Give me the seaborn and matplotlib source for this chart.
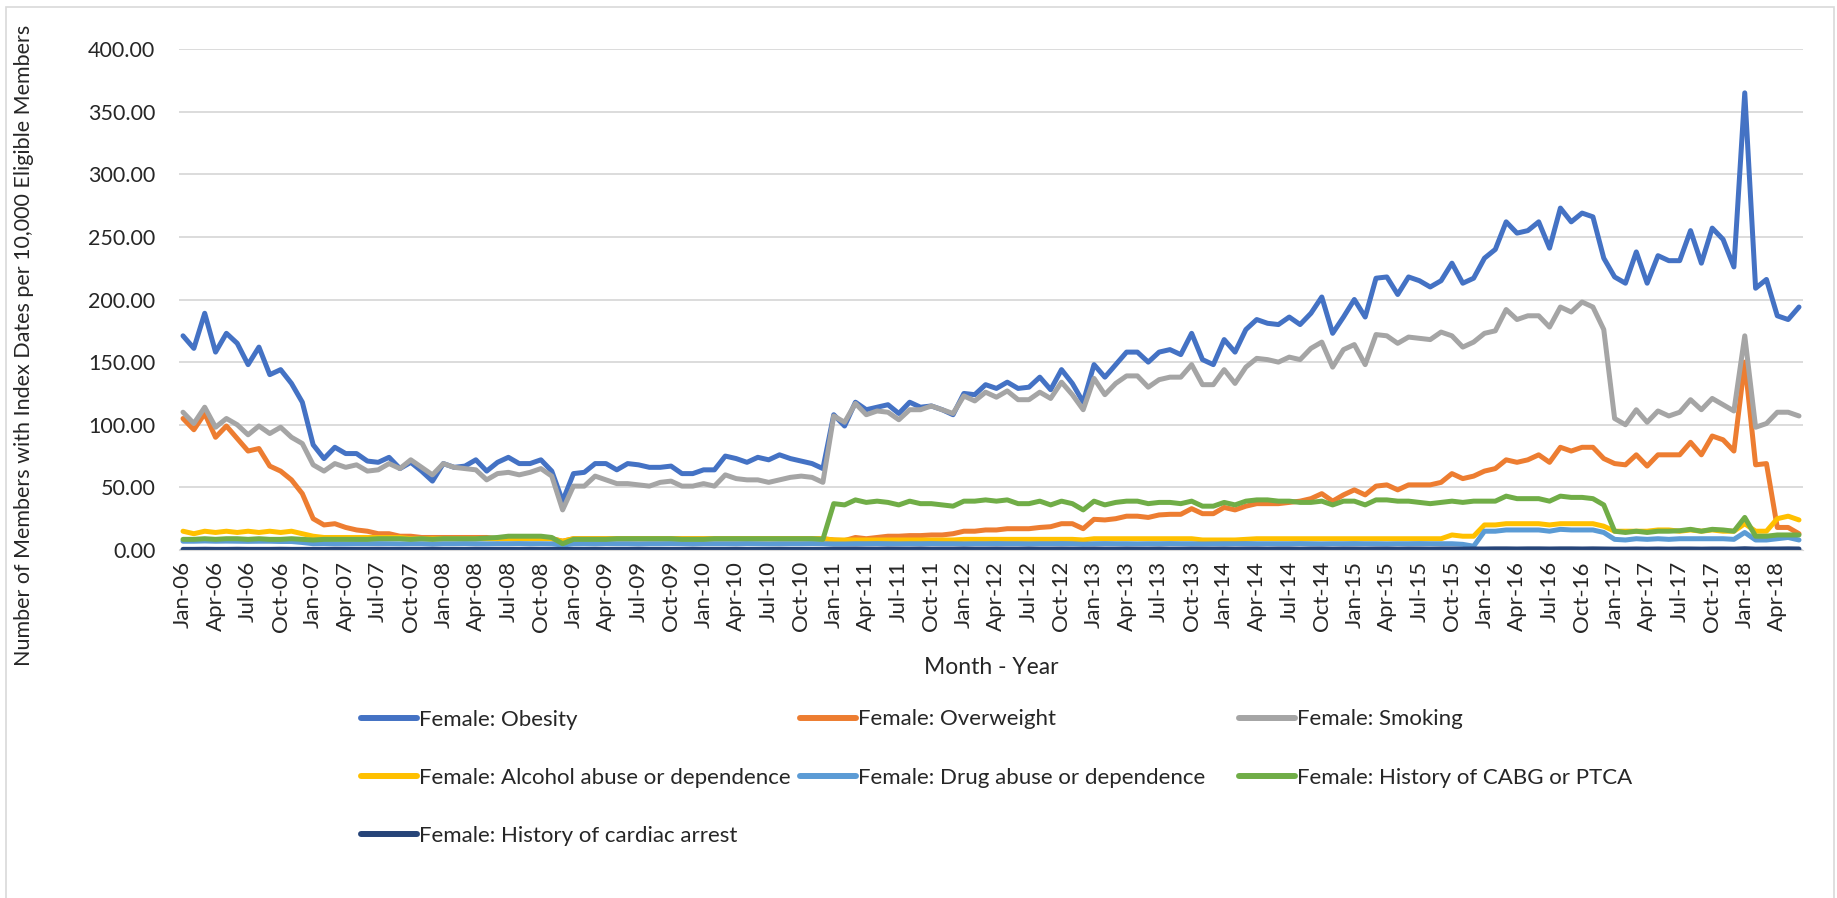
import numpy as np
import pandas as pd
import seaborn as sns
import matplotlib.pyplot as plt
from matplotlib.lines import Line2D
from matplotlib.patches import Rectangle

# monthly values, Jan-06 .. Jun-18 (150 months)
obesity = [171, 161, 189, 158, 173, 165, 148, 162, 140, 144, 133, 118, 84, 73, 82, 77, 77, 71, 70, 74, 65, 70, 63, 55, 69,
           66, 67, 72, 63, 70, 74, 69, 69, 72, 63, 39, 61, 62, 69, 69, 64, 69, 68, 66, 66, 67, 61, 61, 64, 64, 75,
           73, 70, 74, 72, 76, 73, 71, 69, 65, 108, 99, 118, 112, 114, 116, 109, 118, 114, 115, 112, 108, 125, 124, 132, 129, 134,
           129, 130, 138, 128, 144, 133, 118, 148, 138, 148, 158, 158, 150, 158, 160, 156, 173, 152, 148, 168, 158, 176, 184, 181, 180,
           186, 180, 189, 202, 173, 186, 200, 186, 217, 218, 204, 218, 215, 210, 215, 229, 213, 217, 233, 240, 262, 253, 255, 262, 241, 273,
           262, 269, 266, 233, 218, 213, 238, 213, 235, 231, 231, 255, 229, 257, 248, 226, 365, 209, 216, 187, 184, 194]
overweight = [105, 96, 109, 90, 99, 89, 79, 81, 67, 63, 56, 45, 25, 20, 21, 18, 16, 15, 13, 13, 11, 11, 10, 10, 10,
              10, 10, 10, 10, 9, 10, 10, 10, 10, 9, 7, 9, 9, 9, 9, 9, 9, 9, 9, 9, 9, 9, 9, 9, 9, 9,
              9, 9, 9, 9, 9, 9, 9, 9, 9, 8, 7.5, 10, 9, 10, 11, 11, 11.5, 11.5, 12, 12, 13, 15, 15, 16, 16, 17,
              17, 17, 18, 18.6, 21, 21, 17, 24.5, 24, 25, 27, 27, 26, 28, 28.5, 28.5, 33, 29, 29, 34, 32, 35, 37, 37, 37,
              38, 39, 41, 45, 39, 44, 48, 44, 51, 52, 48, 52, 52, 52, 54, 61, 57, 59, 63, 65, 72, 70, 72, 76, 70, 82,
              79, 82, 82, 73, 69, 68, 76, 67, 76, 76, 76, 86, 76, 91, 88, 79, 150, 68, 69, 18, 18, 13]
smoking = [110, 101, 114, 98, 105, 100, 92, 99, 93, 98, 90, 85, 68, 63, 69, 66, 68, 63, 64, 69, 65, 72, 66, 60, 69,
           66, 65, 64, 56, 61, 62, 60, 62, 65, 59, 32, 51, 51, 59, 56, 53, 53, 52, 51, 54, 55, 51, 51, 53, 51, 60,
           57, 56, 56, 54, 56, 58, 59, 58, 54, 107, 102, 117, 108, 111, 110, 104, 112, 112, 115, 112, 109, 123, 119, 126, 122, 127,
           120, 120, 126, 121, 134, 124, 112, 137, 124, 133, 139, 139, 130, 136, 138, 138, 148, 132, 132, 144, 133, 146, 153, 152, 150,
           154, 152, 161, 166, 146, 160, 164, 148, 172, 171, 165, 170, 169, 168, 174, 171, 162, 166, 173, 175, 192, 184, 187, 187, 178, 194,
           190, 198, 194, 176, 105, 100, 112, 102, 111, 107, 110, 120, 112, 121, 116, 111, 171, 98, 101, 110, 110, 107]
alcohol = [15, 13, 15, 14, 15, 14, 15, 14, 15, 14, 15, 13, 11, 10, 10, 10, 10, 10, 10, 10, 10, 9, 9, 9, 9,
           9, 9, 9, 9, 9, 9, 9, 9, 9, 9, 7, 9, 9, 9, 9, 9, 9, 9, 9, 9, 9, 9, 9, 9, 9, 9,
           9, 9, 9, 9, 9, 9, 9, 9, 9, 8, 8, 8, 8, 8, 8, 8, 8, 8, 8, 8, 8, 8.5, 8.5, 8.5, 8.5, 8.5,
           8.5, 8.5, 8.5, 8.5, 8.5, 8.5, 8, 9, 9, 9, 9, 9, 9, 9, 9, 9, 9, 8, 8, 8, 8, 8.5, 9, 9, 9,
           9, 9, 9, 9, 9, 9, 9, 9, 9, 9, 9, 9, 9, 9, 9, 12, 11, 11, 20, 20, 21, 21, 21, 21, 20, 21,
           21, 21, 21, 19, 15, 15, 15, 15, 16, 16, 15, 16, 15, 16, 15, 15, 21, 15, 15, 25, 27, 24]
drug = [7, 7, 7.2, 7, 7.1, 7, 6.9, 7, 7, 6.8, 6.8, 6, 5, 5.1, 5, 4.9, 5, 5, 5.1, 5, 4.9, 5, 5, 4.8, 5,
        5, 5.1, 5, 4.9, 5, 5, 5.1, 5, 5, 4.9, 4, 4.9, 5, 5, 5.1, 5, 5, 4.9, 5, 5, 5.1, 5, 4.9, 5, 5, 5,
        5, 5.1, 5, 4.9, 5, 5, 5, 5.1, 5, 4.8, 4.8, 5, 5, 5.1, 5, 4.9, 5, 5, 5.1, 5, 5, 4.9, 5, 5, 5.1, 5,
        5, 4.9, 5, 5, 5.1, 5, 4.6, 5, 5.1, 5, 5, 4.9, 5, 5, 5.1, 5, 5, 4.8, 4.9, 5, 5, 5.1, 5, 5, 5,
        5, 5.1, 5, 4.9, 5, 5, 5.1, 5, 5, 4.9, 5, 5, 5.1, 5, 5, 5, 4.5, 3, 15, 15, 16, 16, 16, 16, 15, 16.5,
        16, 16, 16, 14, 8.5, 8, 9, 8.5, 9, 8.5, 9, 9, 9, 9, 9, 8.5, 14, 8, 8, 9, 10, 8]
cabg = [8.5, 8.5, 9, 8.5, 9, 9, 8.5, 9, 8.5, 8.5, 9, 8.5, 8, 8.5, 8.5, 8.5, 8.5, 8.5, 9, 9, 9, 8.5, 9, 8.5, 9,
        9, 9, 9, 9.5, 10, 11, 11, 11, 11, 10, 5, 8.5, 8.5, 8.5, 8.5, 9, 9, 9, 9, 9, 9, 8.5, 8.5, 8.5, 9, 9,
        9, 9, 9, 9, 9, 9, 9, 9, 8.5, 37, 36, 40, 38, 39, 38, 36, 39, 37, 37, 36, 35, 39, 39, 40, 39, 40,
        37, 37, 39, 36, 39, 37, 32, 39, 36, 38, 39, 39, 37, 38, 38, 37, 39, 35, 35, 38, 36, 39, 40, 40, 39,
        39, 38, 38, 39, 36, 39, 39, 36, 40, 40, 39, 39, 38, 37, 38, 39, 38, 39, 39, 39, 43, 41, 41, 41, 39, 43,
        42, 42, 41, 36, 15, 14, 15, 14, 15, 15, 15.4, 16.5, 15, 16.5, 16, 15, 26, 11, 11, 12, 12, 12]
arrest = [0.5, 0.5, 0.6, 0.5, 0.5, 0.6, 0.5, 0.5, 0.5, 0.6, 0.5, 0.5, 0.5, 0.5, 0.6, 0.5, 0.5, 0.5, 0.6, 0.5, 0.5, 0.5, 0.5, 0.6, 0.5,
          0.5, 0.5, 0.6, 0.5, 0.5, 0.5, 0.5, 0.6, 0.5, 0.5, 0.4, 0.5, 0.5, 0.6, 0.5, 0.5, 0.5, 0.6, 0.5, 0.5, 0.5, 0.5, 0.6, 0.5, 0.5, 0.5,
          0.6, 0.5, 0.5, 0.5, 0.6, 0.5, 0.5, 0.5, 0.5, 0.7, 0.7, 0.8, 0.7, 0.7, 0.8, 0.7, 0.7, 0.8, 0.7, 0.7, 0.7, 0.8, 0.7, 0.7, 0.8, 0.7,
          0.7, 0.8, 0.7, 0.7, 0.8, 0.7, 0.6, 0.8, 0.7, 0.7, 0.8, 0.7, 0.7, 0.8, 0.7, 0.7, 0.8, 0.7, 0.7, 0.8, 0.7, 0.8, 0.8, 0.7, 0.8,
          0.8, 0.7, 0.8, 0.8, 0.7, 0.8, 0.8, 0.7, 0.8, 0.8, 0.7, 0.8, 0.8, 0.7, 0.8, 0.8, 0.7, 0.8, 0.8, 0.9, 0.9, 0.8, 0.9, 0.9, 0.8, 0.9,
          0.9, 0.8, 0.9, 0.8, 0.7, 0.7, 0.8, 0.7, 0.8, 0.7, 0.8, 0.8, 0.7, 0.8, 0.8, 0.7, 1.0, 0.7, 0.8, 0.8, 0.9, 0.8]

series_names = ['Female: Obesity', 'Female: Overweight', 'Female: Smoking',
                'Female: Alcohol abuse or dependence', 'Female: Drug abuse or dependence',
                'Female: History of CABG or PTCA', 'Female: History of cardiac arrest']
colors = ['#4472C4', '#ED7D31', '#A5A5A5', '#FFC000', '#5B9BD5', '#70AD47', '#264478']

months = pd.date_range('2006-01-01', periods=150, freq='MS')
month_labels = [m.strftime('%b-%y') for m in months]

frames = []
for name, vals in zip(series_names, [obesity, overweight, smoking, alcohol, drug, cabg, arrest]):
    frames.append(pd.DataFrame({'idx': np.arange(len(vals)), 'value': vals, 'series': name}))
df = pd.concat(frames, ignore_index=True)

sns.set_style('white')
plt.rcParams['font.family'] = ['Lato', 'DejaVu Sans']

fig = plt.figure(figsize=(18.37, 8.98), dpi=100)
ax = fig.add_axes([179 / 1837, 1 - 550 / 898, (1803 - 179) / 1837, (550 - 49) / 898])

sns.lineplot(data=df, x='idx', y='value', hue='series', hue_order=series_names,
             palette=dict(zip(series_names, colors)), linewidth=3.6, legend=False, ax=ax)

ax.set_xlim(-0.37, 149.37)
ax.set_ylim(0, 400)
ax.set_yticks(np.arange(0, 401, 50))
ax.set_yticklabels(['%.2f' % v for v in np.arange(0, 401, 50)], fontsize=15.5)
ax.set_xticks(np.arange(0, 150, 3))
ax.set_xticklabels(month_labels[::3], rotation=90, fontsize=16)
ax.tick_params(axis='both', length=0)
ax.tick_params(axis='y', pad=17)
ax.tick_params(axis='x', pad=8)
ax.grid(axis='y', color='#D9D9D9', linewidth=1.3)
ax.set_axisbelow(True)
for s in ['top', 'right', 'left']:
    ax.spines[s].set_visible(False)
ax.spines['bottom'].set_color('#D9D9D9')

ax.set_ylabel('Number of Members with Index Dates per 10,000 Eligible Members', fontsize=15.5)
ax.yaxis.set_label_coords(-0.089, 0.409)
ax.set_xlabel('Month - Year', fontsize=16.5)
ax.xaxis.set_label_coords(0.5, -0.2136)

# legend, filled row by row like the original
handles = [Line2D([], [], color=c, linewidth=4.3) for c in colors]
cols = [[0, 3, 6], [1, 4], [2, 5]]
xs = [361, 800, 1239]
ys = [778, 748.5, 748.5]
for col, x0, y0 in zip(cols, xs, ys):
    fig.legend([handles[i] for i in col], [series_names[i] for i in col],
               loc='center left', bbox_to_anchor=(x0 / 1837, 1 - y0 / 898),
               frameon=False, fontsize=16, handlelength=2.5, handletextpad=0.12,
               labelspacing=1.72, borderpad=0, borderaxespad=0)

fig.patches.append(Rectangle((6 / 1837, -0.01), (1834 - 6) / 1837, 1.01 - 7 / 898,
                             transform=fig.transFigure, fill=False,
                             edgecolor='#D9D9D9', linewidth=1.2))

fig.savefig('out.png', dpi=100)
